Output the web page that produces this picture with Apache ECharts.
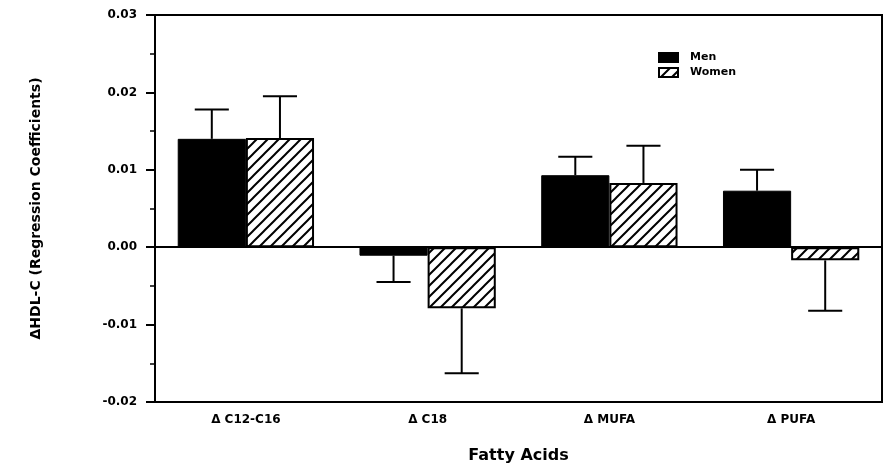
<!DOCTYPE html>
<html>
<head>
<meta charset="utf-8">
<script src="https://cdn.jsdelivr.net/npm/echarts@6/dist/echarts.min.js"></script>
<style>html,body{margin:0;padding:0;background:#fff;}#c{width:884px;height:466px;}</style>
</head>
<body>
<div id="c"></div>
<script>
var categories = ['\u0394 C12-C16', '\u0394 C18', '\u0394 MUFA', '\u0394 PUFA'];
var menValues = [0.0140, -0.0011, 0.0093, 0.0073];
var womenValues = [0.0141, -0.0079, 0.0083, -0.0017];
var menErrEnd = [0.0178, -0.0045, 0.0117, 0.0100];
var womenErrEnd = [0.0195, -0.0163, 0.0131, -0.0082];
var yTicks = [-0.02, -0.01, 0.00, 0.01, 0.02, 0.03];

function hatch() {
  var s = 11;
  var c = document.createElement('canvas');
  c.width = s; c.height = s;
  var g = c.getContext('2d');
  g.fillStyle = '#fff'; g.fillRect(0, 0, s, s);
  g.strokeStyle = '#000'; g.lineWidth = 2;
  g.beginPath();
  g.moveTo(0, s); g.lineTo(s, 0);
  g.moveTo(-s / 2, s / 2); g.lineTo(s / 2, -s / 2);
  g.moveTo(s / 2, s * 1.5); g.lineTo(s * 1.5, s / 2);
  g.stroke();
  return c;
}
var pattern = { image: hatch(), repeat: 'repeat' };
var GAP = 0.25;
var FONT = 'DejaVu Sans';

function errSeries(ends, vals, side) {
  return {
    type: 'custom',
    silent: true,
    z: 5,
    data: ends.map(function (e, i) { return [i, vals[i], e]; }),
    renderItem: function (params, api) {
      var band = api.size([1, 0])[0];
      var bw = band * (1 - GAP) / 2;
      var p0 = api.coord([api.value(0), api.value(1)]);
      var p1 = api.coord([api.value(0), api.value(2)]);
      var x = p0[0] + side * bw / 2;
      var half = bw / 4;
      return {
        type: 'group',
        children: [
          { type: 'line', shape: { x1: x, y1: p0[1], x2: x, y2: p1[1] }, style: { stroke: '#000', lineWidth: 2 } },
          { type: 'line', shape: { x1: x - half, y1: p1[1], x2: x + half, y2: p1[1] }, style: { stroke: '#000', lineWidth: 2 } }
        ]
      };
    }
  };
}

var chart = echarts.init(document.getElementById('c'));
chart.setOption({
  animation: false,
  backgroundColor: '#fff',
  textStyle: { fontFamily: FONT, color: '#000' },
  grid: { left: 155, right: 2, top: 15, bottom: 64, show: true, borderColor: '#000', borderWidth: 2,
    containLabel: false, outerBoundsMode: 'none' },
  legend: {
    orient: 'vertical', left: 653, top: 47, itemWidth: 19, itemHeight: 9, itemGap: 4,
    icon: 'rect',
    textStyle: { fontSize: 11, fontWeight: 'bold', color: '#000', fontFamily: FONT, padding: [0, 0, 0, 7] },
    data: [{ name: 'Men' }, { name: 'Women' }]
  },
  xAxis: {
    type: 'category', data: categories,
    axisLine: { onZero: false, lineStyle: { color: '#000', width: 2 } },
    axisTick: { show: false },
    axisLabel: { fontSize: 12, fontWeight: 'bold', color: '#000', margin: 12, fontFamily: FONT },
    name: 'Fatty Acids', nameLocation: 'middle', nameGap: 46,
    nameTextStyle: { fontSize: 16, fontWeight: 'bold', color: '#000', fontFamily: FONT }
  },
  yAxis: {
    type: 'value', min: -0.02, max: 0.03, interval: 0.01,
    axisLine: { show: true, lineStyle: { color: '#000', width: 2 } },
    axisTick: { show: true, length: 9, lineStyle: { color: '#000', width: 2 } },
    minorTick: { show: true, splitNumber: 2, length: 5, lineStyle: { color: '#000', width: 1.5 } },
    splitLine: { show: false },
    axisLabel: { fontSize: 12, fontWeight: 'bold', color: '#000', margin: 18, fontFamily: FONT,
      formatter: function (v) { return v.toFixed(2); } },
    name: '\u0394HDL-C (Regression Coefficients)', nameLocation: 'middle', nameGap: 112,
    nameTextStyle: { fontSize: 14, fontWeight: 'bold', color: '#000', fontFamily: FONT }
  },
  series: [
    {
      name: 'Men', type: 'bar', data: menValues, barGap: '0%', barCategoryGap: '25%',
      itemStyle: { color: '#000', borderColor: '#000', borderWidth: 1 },
      markLine: { silent: true, symbol: 'none', label: { show: false },
        lineStyle: { color: '#000', width: 2, type: 'solid' }, data: [{ yAxis: 0 }] }
    },
    {
      name: 'Women', type: 'bar', data: womenValues,
      itemStyle: { color: pattern, borderColor: '#000', borderWidth: 2 }
    },
    errSeries(menErrEnd, menValues, -1),
    errSeries(womenErrEnd, womenValues, 1)
  ]
});
</script>
</body>
</html>
